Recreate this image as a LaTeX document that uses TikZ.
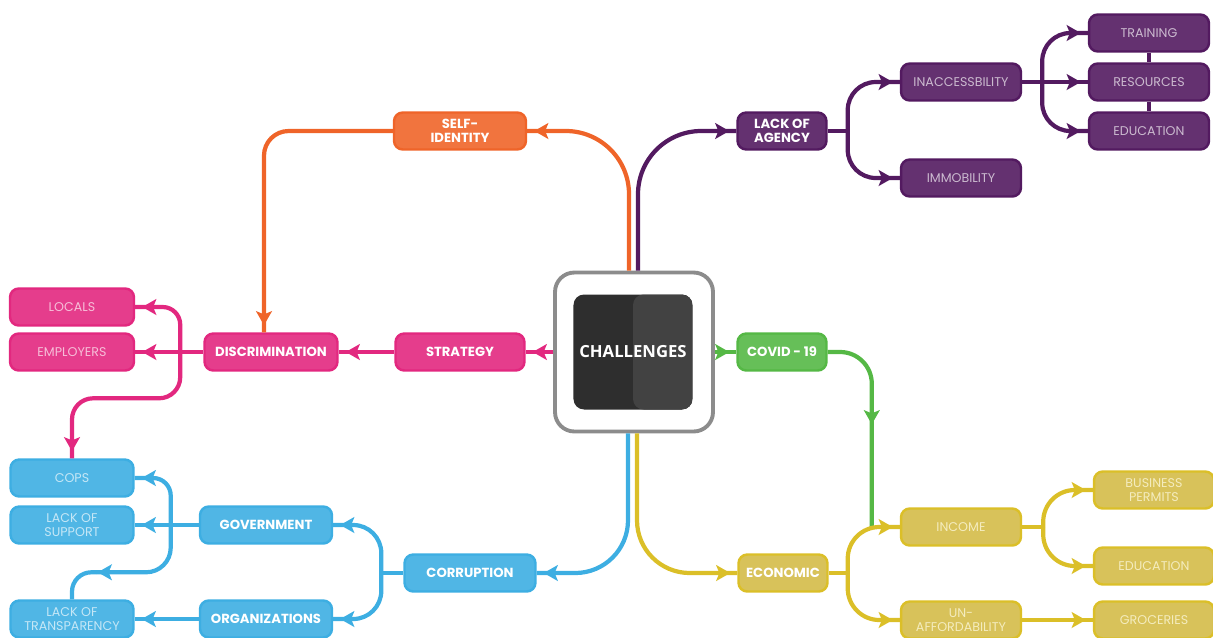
\documentclass[tikz,border=0pt]{standalone}
\usepackage{fontspec}
\usepackage{tikz}
\usetikzlibrary{arrows.meta,decorations.markings,calc}
\newfontfamily\mapfont{Poppins}
\newfontfamily\hubfont{Open Sans}
\definecolor{mapOrange}{HTML}{EF6429}
\definecolor{mapPurple}{HTML}{531A60}
\definecolor{mapPink}{HTML}{E2287F}
\definecolor{mapBlue}{HTML}{3DAEE2}
\definecolor{mapGreen}{HTML}{55B845}
\definecolor{mapYellow}{HTML}{DBBF28}
\definecolor{mapYellowFill}{HTML}{D8C25A}
\definecolor{hubGray}{HTML}{8C8C8C}
\definecolor{hubDark}{HTML}{2E2E2E}
\definecolor{hubDarkR}{HTML}{424242}
\tikzset{
    topic/.style = {rectangle, rounded corners=5pt, draw=#1, fill=#1!90!white, line width=1.4pt, text=white, font=\mapfont\bfseries\fontsize{7.5}{8}\selectfont, align=center, minimum height=0.74cm, inner sep=1pt},
    leaf/.style = {topic=#1, text=#1!30!white, font=\mapfont\fontsize{7.2}{7.6}\selectfont},
    dull/.style = {fill=mapYellowFill},
    link/.style = {draw=#1, line width=2.4pt, rounded corners=10pt},
    headed/.style = {postaction={decorate}, decoration={markings, mark=at position #1 with {\arrow{Stealth[length=8pt,width=9pt,inset=1.8pt]}}}},
    headed/.default = -4pt,
}

\begin{document}
\begin{tikzpicture}[x=0.02cm, y=-0.02cm]
\useasboundingbox (0,0) rectangle (1213,637);

\node [draw=hubGray, line width=2.2pt, fill=white, rounded corners=11pt, minimum width=3.16cm, minimum height=3.18cm] (hubframe) at (634,352) {};
\node [fill=hubDark, rounded corners=6pt, minimum width=2.28cm, minimum height=2.3cm, text=white, font=\hubfont\bfseries\fontsize{9.5}{10}\selectfont,
    path picture={\fill[hubDarkR] (path picture bounding box.north) rectangle (path picture bounding box.south east);}] (hub) at (633,352) {CHALLENGES};

\node [topic=mapOrange, minimum width=2.64cm] (selfid) at (460,131) {SELF-\\IDENTITY};
\node [topic=mapPurple, minimum width=1.78cm] (agency) at (782,131) {LACK OF\\AGENCY};
\node [leaf=mapPurple, minimum width=2.4cm] (inaccess) at (961,82) {INACCESSBILITY};
\node [leaf=mapPurple, minimum width=2.4cm] (immobility) at (961,178) {IMMOBILITY};
\node [leaf=mapPurple, minimum width=2.4cm] (training) at (1149,33) {TRAINING};
\node [leaf=mapPurple, minimum width=2.4cm] (resources) at (1149,82) {RESOURCES};
\node [leaf=mapPurple, minimum width=2.4cm] (educationP) at (1149,131) {EDUCATION};

\node [topic=mapPink, minimum width=2.58cm] (strategy) at (460,352) {STRATEGY};
\node [topic=mapPink, minimum width=2.66cm] (discrim) at (271,352) {DISCRIMINATION};
\node [leaf=mapPink, minimum width=2.48cm] (locals) at (72,307) {LOCALS};
\node [leaf=mapPink, minimum width=2.48cm] (employers) at (72,352) {EMPLOYERS};

\node [topic=mapGreen, minimum width=1.78cm] (covid) at (782,352) {COVID - 19};
\node [topic=mapYellow, dull, minimum width=1.78cm] (economic) at (783,573) {ECONOMIC};
\node [leaf=mapYellow, dull, minimum width=2.4cm] (income) at (961,527) {INCOME};
\node [leaf=mapYellow, dull, minimum width=2.4cm] (unafford) at (961,620) {UN-\\AFFORDABILITY};
\node [leaf=mapYellow, dull, minimum width=2.4cm] (permits) at (1154,490) {BUSINESS\\PERMITS};
\node [leaf=mapYellow, dull, minimum width=2.4cm] (educationY) at (1154,566) {EDUCATION};
\node [leaf=mapYellow, dull, minimum width=2.4cm] (groceries) at (1154,620) {GROCERIES};

\node [topic=mapBlue, minimum width=2.62cm] (corruption) at (470,573) {CORRUPTION};
\node [topic=mapBlue, minimum width=2.64cm] (government) at (266,525) {GOVERNMENT};
\node [topic=mapBlue, minimum width=2.64cm] (organiz) at (266,619) {ORGANIZATIONS};
\node [leaf=mapBlue, minimum width=2.46cm] (cops) at (72,478) {COPS};
\node [leaf=mapBlue, minimum width=2.46cm] (nosupport) at (72,525) {LACK OF\\SUPPORT};
\node [leaf=mapBlue, minimum width=2.46cm] (opacity) at (72,619) {LACK OF\\TRANSPARENCY};

\coordinate (hub-o) at ($(hubframe.north)+(-5,0)$);
\coordinate (hub-p) at ($(hubframe.north)+(4,0)$);
\coordinate (hub-b) at ($(hubframe.south)+(-6,0)$);
\coordinate (hub-y) at ($(hubframe.south)+(3,0)$);

\draw [link=mapOrange, rounded corners=36pt, headed] (hub-o) |- (selfid.east);
\draw [link=mapOrange, rounded corners=14pt, headed] (selfid.west) -| ($(discrim.north)+(-7,0)$);

\draw [link=mapPurple, rounded corners=36pt, headed] (hub-p) |- (agency.west);
\coordinate (agency-split) at ($(agency.east)+(20,0)$);
\draw [link=mapPurple] (agency.east) -- (agency-split);
\draw [link=mapPurple, rounded corners=16pt, headed] (agency-split) |- (inaccess.west);
\draw [link=mapPurple, rounded corners=16pt, headed] (agency-split) |- (immobility.west);
\coordinate (inaccess-split) at ($(inaccess.east)+(20,0)$);
\draw [link=mapPurple] (inaccess.east) -- (inaccess-split);
\draw [link=mapPurple, rounded corners=16pt, headed] (inaccess-split) |- (training.west);
\draw [link=mapPurple, headed] (inaccess-split) -- (resources.west);
\draw [link=mapPurple, rounded corners=16pt, headed] (inaccess-split) |- (educationP.west);
\draw [link=mapPurple] (training.south) -- (resources.north);
\draw [link=mapPurple] (resources.south) -- (educationP.north);

\draw [link=mapPink, headed] (hubframe.west) -- (strategy.east);
\draw [link=mapPink, headed] (strategy.west) -- (discrim.east);
\draw [link=mapPink, headed] (discrim.west) -- (employers.east);
\coordinate (discrim-split) at ($(employers.east)+(45,0)$);
\draw [link=mapPink, headed] (discrim-split) |- (locals.east);
\draw [link=mapPink, rounded corners=12pt, headed] (discrim-split) |- ($(cops.north)+(0,-60)$) -- (cops.north);

\draw [link=mapGreen, headed] (hubframe.east) -- (covid.west);
\coordinate (covid-end) at ($(income.west)+(-28,0)$);
\draw [link=mapGreen, rounded corners=18pt, headed=0.5] (covid.east) -| (covid-end);

\draw [link=mapYellow, rounded corners=30pt, headed] (hub-y) |- (economic.west);
\coordinate (econ-split) at ($(economic.east)+(19,0)$);
\draw [link=mapYellow] (economic.east) -- (econ-split);
\draw [link=mapYellow, rounded corners=18pt, headed] (econ-split) |- (income.west);
\draw [link=mapYellow, rounded corners=18pt, headed] (econ-split) |- (unafford.west);
\coordinate (income-split) at ($(income.east)+(21,0)$);
\draw [link=mapYellow] (income.east) -- (income-split);
\draw [link=mapYellow, rounded corners=18pt, headed] (income-split) |- (permits.west);
\draw [link=mapYellow, rounded corners=18pt, headed] (income-split) |- (educationY.west);
\draw [link=mapYellow, headed] (unafford.east) -- (groceries.west);

\draw [link=mapBlue, rounded corners=30pt, headed] (hub-b) |- (corruption.east);
\coordinate (corr-split) at ($(corruption.west)+(-22,0)$);
\draw [link=mapBlue] (corruption.west) -- (corr-split);
\draw [link=mapBlue, rounded corners=16pt, headed] (corr-split) |- (government.east);
\draw [link=mapBlue, rounded corners=16pt, headed] (corr-split) |- (organiz.east);
\draw [link=mapBlue, headed] (government.west) -- (nosupport.east);
\coordinate (gov-split) at ($(nosupport.east)+(36,0)$);
\draw [link=mapBlue, headed] (gov-split) |- (cops.east);
\coordinate (opacity-turn) at ($(opacity.north)+(24,-27)$);
\draw [link=mapBlue, rounded corners=14pt, headed=-1pt] (gov-split) |- (opacity-turn);
\draw [link=mapBlue, rounded corners=11pt] (opacity-turn) -| (opacity.north);
\draw [link=mapBlue, headed] (organiz.west) -- (opacity.east);
\end{tikzpicture}
\end{document}
